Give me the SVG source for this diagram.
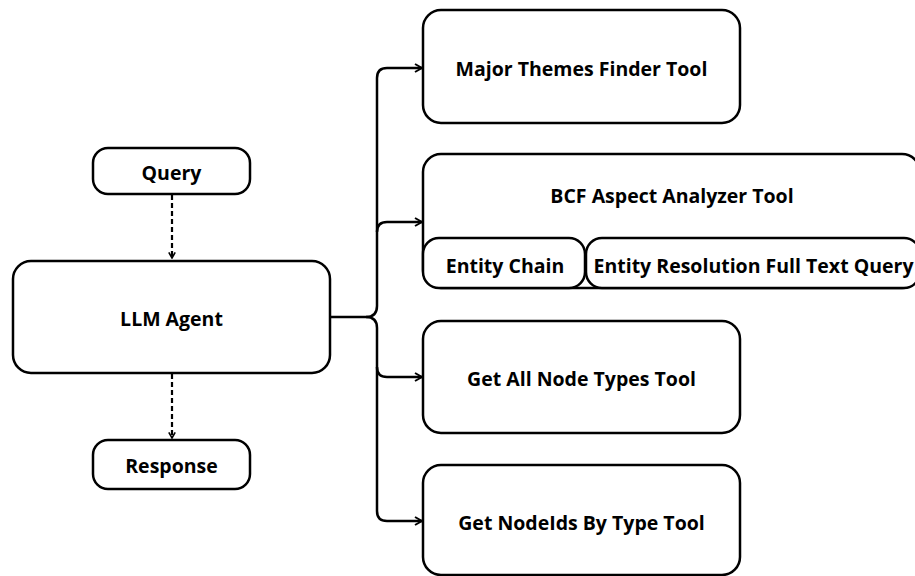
<svg xmlns="http://www.w3.org/2000/svg" width="915" height="576" viewBox="0 0 915 576">
<defs>
<style>
.box{fill:#fff;stroke:#000;stroke-width:2.5}
.t{font-family:"Open Sans","Liberation Sans",sans-serif;font-weight:bold;font-size:19.5px;fill:#000;text-anchor:middle;dominant-baseline:central}
.line{fill:none;stroke:#000;stroke-width:2.5}
.dash{fill:none;stroke:#000;stroke-width:2.2;stroke-dasharray:5 3}
</style>
<marker id="arr" viewBox="0 0 10 10" refX="9" refY="5" markerWidth="10" markerHeight="10" markerUnits="userSpaceOnUse" orient="auto">
<path d="M2,1 L9,5 L2,9" fill="none" stroke="#000" stroke-width="2"/>
</marker>
<marker id="arrs" viewBox="0 0 10 10" refX="9" refY="5" markerWidth="8" markerHeight="8" markerUnits="userSpaceOnUse" orient="auto">
<path d="M2,1 L9,5 L2,9" fill="none" stroke="#000" stroke-width="2"/>
</marker>
</defs>
<rect width="915" height="576" fill="#fff"/>
<g id="connectors">
<line class="dash" x1="172" y1="195" x2="172" y2="258" marker-end="url(#arrs)"/>
<line class="dash" x1="172" y1="374" x2="172" y2="438" marker-end="url(#arrs)"/>
<path class="line" d="M330,317 H366 Q377,317 377,306 V78 Q377,68 387,68 H422" marker-end="url(#arr)"/>
<path class="line" d="M377,232 Q377,222 387,222 H422" marker-end="url(#arr)"/>
<path class="line" d="M366,317 Q377,317 377,328 V511 Q377,521 387,521 H422" marker-end="url(#arr)"/>
<path class="line" d="M377,367 Q377,377 387,377 H422" marker-end="url(#arr)"/>
</g>
<g id="query">
<rect class="box" x="93" y="148" width="157" height="46" rx="15"/>
<text class="t" x="171.5" y="172">Query</text>
</g>
<g id="llm-agent">
<rect class="box" x="13" y="261" width="317" height="112" rx="18"/>
<text class="t" x="171.5" y="318">LLM Agent</text>
</g>
<g id="response">
<rect class="box" x="93" y="440" width="157" height="49" rx="15"/>
<text class="t" x="171.5" y="465">Response</text>
</g>
<g id="major-themes">
<rect class="box" x="423" y="10" width="317" height="113" rx="18"/>
<text class="t" x="581.5" y="68">Major Themes Finder Tool</text>
</g>
<g id="bcf-aspect">
<rect class="box" x="423" y="154" width="497" height="134" rx="18"/>
<text class="t" x="672" y="195">BCF Aspect Analyzer Tool</text>
</g>
<g id="entity-chain">
<rect class="box" x="423" y="238" width="162" height="50" rx="16"/>
<text class="t" x="505" y="265">Entity Chain</text>
</g>
<g id="entity-resolution">
<rect class="box" x="586" y="238" width="334" height="50" rx="16"/>
<text class="t" x="753.5" y="265">Entity Resolution Full Text Query</text>
</g>
<g id="get-all-node-types">
<rect class="box" x="423" y="321" width="317" height="112" rx="18"/>
<text class="t" x="581.5" y="378">Get All Node Types Tool</text>
</g>
<g id="get-nodeids">
<rect class="box" x="423" y="465" width="317" height="110" rx="18"/>
<text class="t" x="581.5" y="522">Get NodeIds By Type Tool</text>
</g>
</svg>
